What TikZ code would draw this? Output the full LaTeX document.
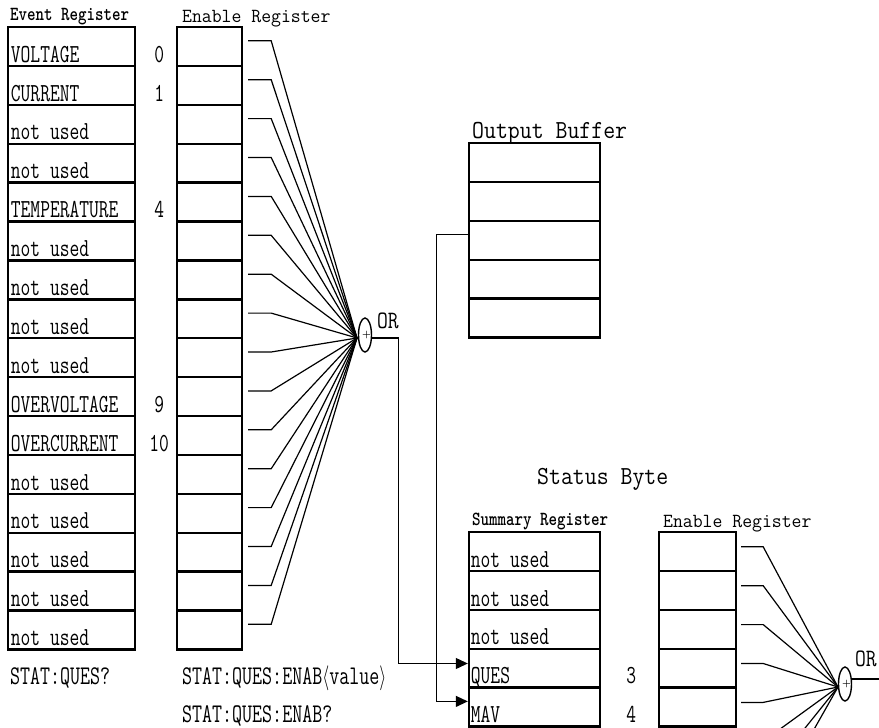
\documentclass[tikz,border=0pt]{standalone}
\usepackage{fontspec}
\usetikzlibrary{arrows.meta,positioning,calc,shapes.geometric}

\begin{document}
\begin{tikzpicture}[x=1pt,y=-1pt,>={Triangle[length=12pt,width=11pt]},
 ft/.style 2 args={font=\ttfamily\fontsize{#1}{#1}\selectfont,xscale=#2,transform shape},
 cell/.style={draw,line width=2.4pt,minimum height=38.9pt,inner sep=0pt},
 wire/.style={line width=1.2pt},
 gate/.style={draw,ellipse,line width=1.4pt,minimum width=13pt,minimum height=34pt,inner sep=0pt},
 lbl/.style={anchor=base west,inner sep=0pt,ft={26}{.73}},
 bit/.style={anchor=base,inner sep=0pt,ft={26}{.73}},
 head/.style={anchor=base west,inner sep=0pt,font=\ttfamily\bfseries\fontsize{20}{22}\selectfont,xscale=.81,transform shape},
 title/.style={anchor=base west,inner sep=0pt,ft={20}{.96}},
 big/.style={anchor=base west,inner sep=0pt,ft={26}{.89}},
 orlbl/.style={anchor=base west,inner sep=0pt,ft={25}{.84}},
 cmd/.style={anchor=base west,inner sep=0pt,ft={27}{.72}}]
\useasboundingbox (0,0) rectangle (879,728);
\clip (0,0) rectangle (879,728);
% titles
\node[head] (evth) at (10,20) {Event Register};
\node[title] (enbh) at (182,22) {Enable Register};
\node[big] (bufh) at (472,138) {Output Buffer};
\node[big] (sbh) at (537,484) {Status Byte};
\node[head] (sumh) at (472,525) {Summary Register};
\node[title] (senh) at (663,527) {Enable Register};
% OR gates
\node[gate] (orq) at (365,335) {};
\coordinate (orqin) at (357,338);
\node[font=\bfseries\fontsize{10}{10}\selectfont,inner sep=0pt] (orqp) at ([xshift=1.5pt]orq) {+};
\node[orlbl] (orql) at (377,328) {OR};
\node[gate] (ors) at (845,684) {};
\coordinate (orsin) at (838,687);
\node[font=\bfseries\fontsize{10}{10}\selectfont,inner sep=0pt] (orsp) at ([xshift=1.5pt]ors) {+};
\node[orlbl] (orsl) at (855,666) {OR};
% questionable event + enable register
\foreach \i/\lbl/\bitno in {0/VOLTAGE/0,1/CURRENT/1,2/not used/{},3/not used/{},4/TEMPERATURE/4,
  5/not used/{},6/not used/{},7/not used/{},8/not used/{},9/OVERVOLTAGE/9,10/OVERCURRENT/10,
  11/not used/{},12/not used/{},13/not used/{},14/not used/{},15/not used/{}}{
 \node[cell,minimum width=127pt] (evt\i) at (71.5,{46.45+38.9*\i}) {};
 \node[lbl] (evtt\i) at ([shift={(4pt,5pt)}]evt\i.south west) {\lbl};
 \node[bit] (evtb\i) at ([shift={(23pt,5pt)}]evt\i.south east) {\bitno};
 \node[cell,minimum width=65pt] (enb\i) at (209.5,{46.45+38.9*\i}) {};
 \draw[wire] ([shift={(5pt,-15pt)}]enb\i.north east) -- ++(23,0) -- (orqin);
}
% output buffer
\foreach \i in {0,...,4}
 \node[cell,minimum width=131pt] (buf\i) at (534.5,{162.45+38.9*\i}) {};
% status byte
\foreach \i/\lbl/\bitno in {0/not used/{},1/not used/{},2/not used/{},3/QUES/3,4/MAV/4,5/{}/{}}{
 \node[cell,minimum width=131pt] (sum\i) at (534.5,{551.45+38.9*\i}) {};
 \node[lbl] (sumt\i) at ([shift={(3pt,5pt)}]sum\i.south west) {\lbl};
 \node[bit] (sumb\i) at ([shift={(30pt,5pt)}]sum\i.south east) {\bitno};
}
\foreach \i in {0,...,7}{
 \node[cell,minimum width=77pt] (sen\i) at (697.5,{551.45+38.9*\i}) {};
 \draw[wire] ([shift={(4pt,-16pt)}]sen\i.north east) -- ++(22,0) -- (orsin);
}
% links
\draw[wire,->] ([yshift=-3pt]orq.east) -- ++(26,0) |- ([yshift=-16pt]sum3.north west);
\draw[wire,->] ([yshift=6pt]buf2.west) -- ++(-31,0) |- ([yshift=-15pt]sum4.north west);
\draw[wire] ([yshift=5pt]ors.east) -- ++(40,0);
% commands
\node[cmd] (qry) at (10,684) {STAT:QUES?};
\node[cmd] (enset) at (182,684) {STAT:QUES:ENAB$\langle$value$\rangle$};
\node[cmd] (enqry) at (182,722) {STAT:QUES:ENAB?};
\end{tikzpicture}
\end{document}
